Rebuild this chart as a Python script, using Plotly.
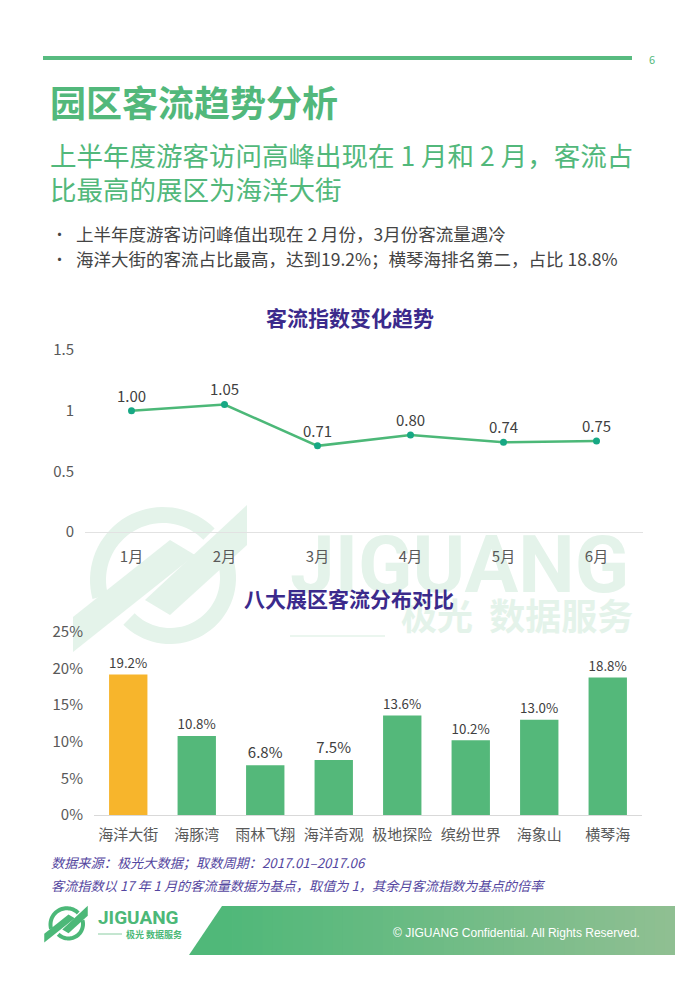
"""Park visitor flow page: monthly flow index + zone share bars."""
import math

import plotly.graph_objects as go

W, H = 700, 990
OFF = 8  # the page body adds an 8px margin; pull everything back by it
CJK = "Noto Sans CJK SC"
GREEN = "#52b87b"
PURPLE = "#3b2a8c"
NOTE = "#5446a0"
TICK = "#595959"
LABEL = "#404040"
WATERMARK = "#e4f3ea"

# ── data ────────────────────────────────────────────────────────────────
months = ["1月", "2月", "3月", "4月", "5月", "6月"]
flow_index = [1.00, 1.05, 0.71, 0.80, 0.74, 0.75]
index_ticks = [0, 0.5, 1, 1.5]
index_ticktext = ["0", "0.5", "1", "1.5"]

zones = ["海洋大街", "海豚湾", "雨林飞翔", "海洋奇观", "极地探险", "缤纷世界", "海象山", "横琴海"]
zone_share = [19.2, 10.8, 6.8, 7.5, 13.6, 10.2, 13.0, 18.8]
share_ticks = [0, 5, 10, 15, 20, 25]
share_ticktext = [f"{v}%" for v in share_ticks]


def X(px):
    return (px - OFF) / W


def Y(py):
    return 1 - (py - OFF) / H


def path(points):
    return "M " + " L ".join(f"{X(x):.5f},{Y(y):.5f}" for x, y in points) + " Z"


def arc(cx, cy, r_in, r_out, a0, a1, n=36):
    outer = [(cx + r_out * math.cos(math.radians(a0 + (a1 - a0) * i / n)),
              cy - r_out * math.sin(math.radians(a0 + (a1 - a0) * i / n))) for i in range(n + 1)]
    inner = [(cx + r_in * math.cos(math.radians(a1 + (a0 - a1) * i / n)),
              cy - r_in * math.sin(math.radians(a1 + (a0 - a1) * i / n))) for i in range(n + 1)]
    return outer + inner


def logo(cx, cy, s, color, layer="below"):
    """Rough JIGUANG mark, local coords relative to centre, scaled by s."""
    parts = [
        arc(3, 2, 57, 73, 195, 45),
        arc(10, 0, 50, 66, 15, -135),
        [(-87, 39), (10, -38), (35, -23), (-87, 74)],
        [(-15, 22), (87, -73), (87, -33), (10, 37)],
    ]
    out = []
    for pts in parts:
        p = [(cx + x * s, cy + y * s) for x, y in pts]
        out.append(dict(type="path", xref="paper", yref="paper", path=path(p),
                        fillcolor=color, line=dict(width=0), layer=layer))
    return out


def wm_text(text, x0, x1, yc, size, family):
    """Watermark text drawn as a shape label so it sits under the charts."""
    return dict(type="rect", xref="paper", yref="paper", x0=X(x0), x1=X(x1),
                y0=Y(yc + size / 2), y1=Y(yc - size / 2), layer="below",
                fillcolor="rgba(0,0,0,0)", line=dict(width=0),
                label=dict(text=text, textposition="middle left", padding=0,
                           font=dict(family=family, size=size, color=WATERMARK)))


def note(text, x, y, size, color, anchor="left", family=CJK):
    return dict(text=text, x=X(x), y=Y(y), xref="paper", yref="paper",
                xanchor=anchor, yanchor="middle", showarrow=False,
                font=dict(family=family, size=size, color=color))


fig = go.Figure()

fig.add_trace(go.Scatter(
    x=months, y=flow_index, mode="lines+markers+text",
    text=[f"{v:.2f}" for v in flow_index], textposition="top center",
    textfont=dict(family=CJK, size=15, color=LABEL),
    line=dict(color="#4cb878", width=2.5),
    marker=dict(color="#17a884", size=7),
    xaxis="x", yaxis="y", cliponaxis=False, hoverinfo="x+y",
))

top = max(zone_share)
fig.add_trace(go.Bar(
    x=zones, y=zone_share,
    marker=dict(color=["#f7b52c" if v == top else "#54b87a" for v in zone_share], line=dict(width=0)),
    text=[f"{v:.1f}%" for v in zone_share], textposition="outside",
    textfont=dict(family=CJK, size=15, color=LABEL),
    xaxis="x2", yaxis="y2", cliponaxis=False,
))

shapes = []
# watermark
shapes += logo(160, 578, 1.0, WATERMARK)
shapes.append(wm_text("<b>JIGUANG</b>", 287, 640, 559, 80, "Roboto"))
shapes.append(wm_text("<b>极光  数据服务</b>", 398, 640, 620, 36, CJK))
shapes.append(dict(type="line", xref="paper", yref="paper", x0=X(290), x1=X(385),
                   y0=Y(636), y1=Y(636), line=dict(color=WATERMARK, width=1.5), layer="below"))
# header rule
shapes.append(dict(type="line", xref="paper", yref="paper", x0=X(43), x1=X(632),
                   y0=Y(58), y1=Y(58), line=dict(color="#58bb80", width=4)))
# footer band with left->right gradient
c0, c1 = (80, 184, 121), (143, 191, 146)
shapes.append(dict(type="path", xref="paper", yref="paper",
                   path=path([(189, 955), (222, 906), (232, 906), (232, 955)]),
                   fillcolor=f"rgb{c0}", line=dict(width=0)))
n = 45
for i in range(n):
    t = i / (n - 1)
    col = tuple(round(a + (b - a) * t) for a, b in zip(c0, c1))
    xa = 222 + (675 - 222) * i / n
    xb = 222 + (675 - 222) * (i + 1) / n + (0.8 if i < n - 1 else 0)
    shapes.append(dict(type="rect", xref="paper", yref="paper", x0=X(xa), x1=X(xb),
                       y0=Y(955), y1=Y(906), fillcolor=f"rgb{col}", line=dict(width=0)))
# footer logo
shapes += logo(66, 924, 0.25, "#4cb878", layer="above")
shapes.append(dict(type="line", xref="paper", yref="paper", x0=X(98), x1=X(122),
                   y0=Y(934), y1=Y(934), line=dict(color="#6cc08c", width=0.8)))

annotations = [
    # header
    note("6", 647, 59, 11, GREEN),
    note("<b>园区客流趋势分析</b>", 48, 101, 36, GREEN),
    note("上半年度游客访问高峰出现在 1 月和 2 月，客流占", 48, 155, 26.5, GREEN),
    note("比最高的展区为海洋大街", 48, 188, 26.5, GREEN),
    note("•", 50, 233, 15, "#444444"),
    note("上半年度游客访问峰值出现在 2 月份，3月份客流量遇冷", 74, 233, 17.5, "#444444"),
    note("•", 50, 259, 15, "#444444"),
    note("海洋大街的客流占比最高，达到19.2%；横琴海排名第二，占比 18.8%", 74, 259, 17.5, "#444444"),
    # chart titles
    note("<b>客流指数变化趋势</b>", 350, 317, 21, PURPLE, anchor="center"),
    note("<b>八大展区客流分布对比</b>", 349, 598, 21, PURPLE, anchor="center"),
    # footnotes
    note("<i>数据来源：极光大数据；取数周期：2017.01–2017.06</i>", 49, 862, 13.2, NOTE),
    note("<i>客流指数以 17 年 1 月的客流量数据为基点，取值为 1，其余月客流指数为基点的倍率</i>",
         49, 885, 13.2, NOTE),
    # footer
    note("<b>JIGUANG</b>", 96, 917, 19, "#4cb878", family="Roboto"),
    note("<b>极光 数据服务</b>", 124, 934, 9, "#4cb878"),
    note("© JIGUANG Confidential. All Rights Reserved.", 642, 933, 12, "white",
         anchor="right", family="Liberation Sans"),
]

tickfont = dict(family=CJK, size=15, color=TICK)
fig.update_layout(
    width=W, height=H, margin=dict(l=0, r=0, t=0, b=0),
    paper_bgcolor="white", plot_bgcolor="rgba(0,0,0,0)",
    showlegend=False, bargap=0.44,
    font=dict(family=CJK),
    xaxis=dict(domain=[X(85), X(643)], anchor="y", range=[-0.5, len(months) - 0.5],
               showgrid=False, showline=False, ticks="", tickfont=tickfont,
               ticklabelstandoff=14, automargin=False),
    yaxis=dict(domain=[Y(532), Y(350)], anchor="x", range=[0, 1.5], tickvals=index_ticks,
               ticktext=index_ticktext, showgrid=False, zeroline=True, zerolinecolor="#e2e2e2",
               zerolinewidth=1, ticks="", tickfont=tickfont, ticklabelstandoff=10,
               automargin=False),
    xaxis2=dict(domain=[X(94), X(642)], anchor="y2", range=[-0.5, len(zones) - 0.5],
                showgrid=False, showline=False, ticks="", tickfont=tickfont,
                ticklabelstandoff=9, automargin=False),
    yaxis2=dict(domain=[Y(815), Y(632)], anchor="x2", range=[0, 25], tickvals=share_ticks,
                ticktext=share_ticktext, showgrid=False, zeroline=True, zerolinecolor="#d9d9d9",
                zerolinewidth=1, ticks="", tickfont=tickfont, ticklabelstandoff=10,
                automargin=False),
    shapes=shapes,
    annotations=annotations,
)

fig.write_html("out.html")
